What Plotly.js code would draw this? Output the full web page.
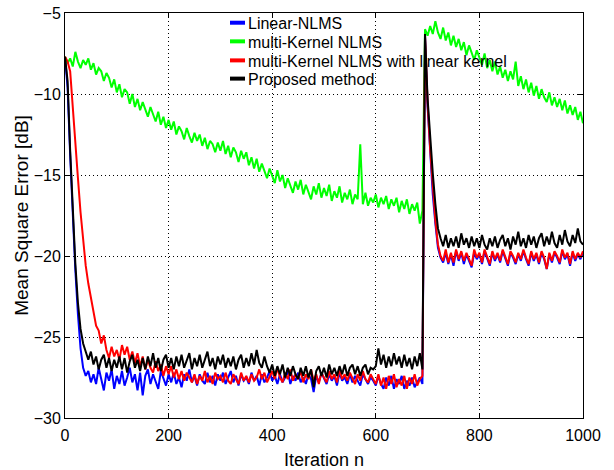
<!DOCTYPE html>
<html>
<head>
<meta charset="utf-8">
<script src="https://cdn.plot.ly/plotly-3.0.1.min.js"></script>
<style>html,body{margin:0;padding:0;background:#fff;}#chart{width:614px;height:470px;}</style>
</head>
<body>
<div id="chart"></div>
<script>
// Iteration index (every 5th sample)
const iterations = Array.from({length: 201}, (_, i) => i * 5);

const seriesNames = ["Linear-NLMS", "multi-Kernel NLMS", "multi-Kernel NLMS with linear kernel", "Proposed method"];

const linearNLMS = [
-7.7,-9.6,-13.8,-17.6,-20.9,-23.6,-25.7,-26.9,-27.4,-27.1,
-27.8,-27.3,-27.9,-26.9,-27.6,-28.3,-27.2,-27.7,-27.0,-28.2,
-27.4,-27.9,-27.1,-28.0,-27.5,-26.9,-27.8,-27.3,-28.3,-27.2,
-28.6,-27.4,-27.0,-27.9,-27.3,-27.8,-28.2,-27.1,-27.6,-28.0,
-27.3,-27.8,-27.2,-27.9,-27.5,-28.1,-27.3,-27.7,-27.0,-27.8,
-27.4,-28.0,-27.3,-27.7,-27.9,-27.2,-27.8,-27.4,-28.0,-27.3,
-27.7,-27.2,-27.9,-27.5,-27.1,-27.8,-27.4,-28.0,-27.3,-27.7,
-27.5,-27.9,-27.2,-27.7,-27.4,-28.0,-27.3,-27.8,-27.5,-27.1,
-27.7,-27.4,-27.9,-27.3,-27.8,-27.5,-27.1,-27.9,-27.4,-27.7,
-27.2,-27.8,-27.5,-27.9,-27.3,-27.6,-28.4,-27.4,-27.8,-27.2,
-27.6,-27.9,-27.3,-27.7,-27.4,-28.0,-27.2,-27.7,-27.5,-27.9,
-27.3,-27.8,-27.4,-27.7,-28.0,-27.3,-27.6,-27.9,-27.5,-27.7,
-28.0,-27.4,-27.9,-28.2,-27.5,-28.0,-27.4,-28.2,-27.6,-27.9,
-27.4,-28.2,-27.7,-28.0,-27.5,-28.1,-27.8,-27.5,-27.9,-6.4,
-10.8,-13.6,-16.2,-18.0,-19.5,-20.1,-20.4,-19.8,-20.5,-19.9,
-20.6,-19.7,-20.3,-19.8,-20.5,-19.9,-20.3,-20.7,-19.8,-20.2,
-19.9,-20.5,-19.7,-20.2,-20.6,-19.8,-20.3,-19.9,-20.4,-19.7,
-20.2,-20.6,-19.8,-20.1,-20.5,-19.9,-20.3,-19.7,-20.2,-20.6,
-19.8,-20.3,-19.9,-20.5,-19.8,-20.2,-20.8,-19.9,-20.4,-19.8,
-20.1,-20.5,-19.7,-20.2,-19.9,-20.6,-19.8,-20.3,-19.9,-20.2,
-19.8];

const multiKernelNLMS = [
-7.7,-8.1,-7.8,-8.3,-7.4,-8.0,-8.4,-7.9,-8.2,-7.8,
-8.5,-8.1,-8.8,-8.4,-8.6,-9.2,-8.7,-9.0,-9.6,-9.1,
-9.9,-9.4,-10.2,-9.7,-9.9,-10.6,-10.0,-10.8,-10.3,-11.0,
-10.5,-10.9,-11.4,-10.8,-11.3,-11.7,-11.1,-11.9,-11.4,-12.1,
-11.6,-12.2,-11.7,-12.5,-12.0,-12.3,-12.8,-12.1,-12.6,-13.0,
-12.4,-12.9,-12.5,-13.2,-12.7,-13.4,-12.9,-13.1,-13.6,-13.0,
-13.5,-12.9,-13.7,-13.2,-13.9,-13.3,-13.6,-14.2,-13.5,-14.0,
-13.6,-14.4,-13.9,-14.6,-14.0,-14.8,-14.3,-14.7,-15.2,-14.6,
-15.0,-15.5,-14.7,-15.4,-15.0,-15.8,-15.2,-15.6,-16.1,-15.4,
-15.9,-15.3,-16.2,-15.6,-16.0,-16.5,-15.7,-16.2,-15.5,-16.4,
-15.8,-16.3,-15.6,-16.6,-16.0,-16.4,-15.7,-16.7,-16.1,-16.5,
-15.9,-16.8,-16.2,-16.5,-13.1,-16.8,-16.1,-16.9,-16.4,-16.7,
-16.2,-17.0,-16.4,-16.8,-16.3,-17.1,-16.5,-16.9,-16.4,-17.3,
-16.6,-17.1,-16.5,-17.4,-16.8,-17.2,-16.7,-18.0,-17.2,-6.0,
-6.4,-5.8,-6.3,-5.5,-6.2,-6.6,-5.9,-6.7,-6.2,-7.0,
-6.4,-7.1,-6.6,-7.3,-6.8,-7.6,-7.0,-7.4,-7.9,-7.3,
-7.8,-8.2,-7.5,-8.4,-7.9,-8.6,-8.0,-8.8,-8.3,-9.0,
-8.5,-9.2,-8.6,-9.1,-8.0,-9.5,-8.9,-9.7,-9.1,-9.9,
-9.3,-10.1,-9.5,-10.3,-9.7,-10.2,-10.5,-9.9,-10.7,-10.2,
-10.8,-10.3,-11.0,-10.4,-11.2,-10.7,-11.3,-10.8,-11.6,-11.1,
-11.8];

const multiKernelLinear = [
-7.7,-8.0,-8.6,-11.0,-13.3,-15.2,-17.3,-19.2,-20.6,-21.7,
-22.6,-23.3,-24.3,-24.6,-25.4,-24.9,-25.8,-26.3,-25.6,-26.2,
-25.8,-26.4,-25.5,-26.1,-25.6,-26.4,-25.9,-26.6,-26.0,-26.8,
-26.2,-27.0,-26.4,-26.9,-27.2,-26.5,-27.1,-26.7,-27.4,-26.8,
-27.3,-26.8,-27.5,-27.0,-27.6,-27.1,-27.7,-27.2,-27.5,-27.8,
-27.3,-27.9,-27.4,-27.7,-27.1,-27.8,-27.4,-27.9,-27.2,-27.6,
-27.4,-27.8,-27.2,-27.7,-27.9,-27.3,-27.6,-27.9,-27.2,-27.7,
-27.4,-27.8,-27.3,-27.7,-27.5,-27.0,-27.6,-27.2,-27.8,-27.4,
-27.1,-27.6,-26.9,-27.5,-27.8,-27.2,-27.6,-27.0,-27.7,-27.3,
-27.6,-27.1,-27.8,-27.3,-27.6,-27.0,-27.7,-27.3,-27.9,-27.2,
-27.5,-27.8,-27.1,-27.6,-27.3,-27.8,-27.0,-27.6,-27.3,-27.7,
-27.2,-27.6,-27.9,-27.3,-27.7,-27.1,-27.6,-27.8,-27.3,-27.6,
-27.9,-27.3,-28.0,-27.5,-28.2,-27.4,-27.9,-27.3,-28.1,-27.6,
-28.0,-27.4,-28.2,-27.5,-27.9,-27.3,-28.0,-27.6,-27.4,-6.4,
-10.6,-13.4,-15.9,-17.8,-19.3,-20.0,-20.3,-19.6,-20.4,-19.8,
-20.4,-19.6,-20.2,-19.7,-20.3,-19.8,-20.2,-20.6,-19.6,-20.1,
-19.8,-20.4,-19.6,-20.0,-20.5,-19.7,-20.2,-19.8,-20.3,-19.6,
-20.1,-20.5,-19.7,-20.0,-20.4,-19.8,-20.2,-19.6,-20.1,-20.5,
-19.7,-20.2,-19.8,-20.4,-19.7,-20.1,-20.8,-19.8,-20.3,-19.7,
-20.0,-20.4,-19.6,-20.1,-19.8,-20.5,-19.7,-20.2,-19.8,-20.1,
-19.7];

const proposedMethod = [
-7.7,-9.2,-13.5,-17.3,-20.5,-22.9,-24.5,-25.4,-25.9,-26.4,
-25.9,-26.7,-26.2,-27.0,-26.4,-26.1,-26.9,-26.3,-27.1,-26.4,
-26.9,-26.2,-27.0,-26.3,-27.2,-26.5,-26.1,-26.9,-26.4,-27.1,
-26.3,-27.0,-26.2,-26.8,-26.0,-26.9,-26.3,-27.1,-26.4,-26.1,
-26.9,-26.3,-27.0,-26.2,-26.8,-26.1,-26.9,-26.4,-26.0,-27.0,
-26.3,-26.8,-26.1,-26.9,-26.4,-25.9,-26.8,-26.3,-27.0,-26.2,
-26.7,-26.1,-26.9,-26.3,-26.8,-26.2,-27.0,-26.4,-26.1,-26.9,
-26.3,-26.8,-26.0,-26.7,-25.8,-26.6,-26.9,-26.2,-26.8,-27.2,
-26.7,-27.4,-26.8,-27.3,-26.7,-27.5,-26.9,-27.4,-26.8,-27.3,
-27.6,-26.9,-27.4,-26.8,-27.5,-27.0,-28.1,-27.1,-26.8,-27.4,
-26.9,-27.5,-26.7,-27.3,-26.9,-27.4,-26.8,-27.3,-26.7,-27.4,
-26.9,-26.7,-27.3,-26.8,-27.4,-26.9,-26.7,-27.3,-26.9,-27.0,
-26.8,-25.7,-26.7,-26.1,-26.9,-26.2,-26.8,-26.0,-26.7,-26.2,
-26.9,-26.1,-26.8,-26.3,-27.0,-26.2,-26.8,-26.0,-27.0,-6.3,
-10.3,-12.7,-14.9,-16.8,-18.3,-18.9,-19.4,-18.7,-19.5,-18.9,
-19.4,-18.8,-19.5,-18.6,-19.3,-18.9,-19.5,-18.8,-19.4,-18.9,
-19.5,-18.7,-19.3,-19.6,-18.9,-19.4,-18.8,-19.5,-19.0,-18.7,
-19.4,-18.9,-19.6,-18.8,-19.3,-18.5,-19.4,-18.9,-19.5,-18.7,
-19.3,-18.8,-19.5,-18.9,-18.6,-19.4,-18.8,-19.3,-18.5,-19.2,
-19.5,-18.7,-19.3,-18.4,-19.1,-19.4,-18.7,-19.2,-18.3,-19.1,
-19.3];

const seriesValues = [linearNLMS, multiKernelNLMS, multiKernelLinear, proposedMethod];
const seriesColors = ["#0000FF", "#00FF00", "#FF0000", "#000000"];

const FONT = "Liberation Sans, Arial, Helvetica, sans-serif";

const traces = seriesValues.map((vals, k) => ({
  type: "scatter", mode: "lines",
  x: iterations, y: vals,
  name: seriesNames[k],
  line: {color: seriesColors[k], width: 2},
  showlegend: false, hoverinfo: "skip"
}));

// Legend drawn in the MATLAB style: short thick sample line + label, no box
const legendRowsY = [0.976, 0.930, 0.883, 0.838];
const shapes = [];
const annotations = [];
seriesNames.forEach((nm, k) => {
  shapes.push({
    type: "line", xref: "paper", yref: "paper",
    x0: 0.3185, x1: 0.3475, y0: legendRowsY[k], y1: legendRowsY[k],
    line: {color: seriesColors[k], width: 4}
  });
  annotations.push({
    xref: "paper", yref: "paper", x: 0.350, y: legendRowsY[k] - 0.003,
    xanchor: "left", yanchor: "middle", showarrow: false,
    text: nm, font: {family: FONT, size: 16, color: "#000"}
  });
});

const axisCommon = {
  showline: true, linecolor: "#000", linewidth: 1, mirror: "ticks",
  ticks: "inside", ticklen: 5, tickcolor: "#000", tickwidth: 1,
  showgrid: true, gridcolor: "#000", gridwidth: 1, griddash: "1px,3px",
  zeroline: false,
  tickfont: {family: FONT, size: 16, color: "#000"}
};

const layout = {
  width: 614, height: 470,
  margin: {l: 65, r: 31, t: 13, b: 52},
  paper_bgcolor: "#fff", plot_bgcolor: "#fff",
  font: {family: FONT, color: "#000"},
  xaxis: Object.assign({}, axisCommon, {
    range: [0, 1000], dtick: 200, tick0: 0, ticklabelstandoff: 3,
    title: {text: "Iteration n", font: {family: FONT, size: 18, color: "#000"}, standoff: 10}
  }),
  yaxis: Object.assign({}, axisCommon, {
    range: [-30, -5], dtick: 5, tick0: -30,
    title: {text: "Mean Square Error [dB]", font: {family: FONT, size: 19, color: "#000"}, standoff: 0}
  }),
  shapes: shapes,
  annotations: annotations,
  showlegend: false
};

Plotly.newPlot("chart", traces, layout, {staticPlot: true, displayModeBar: false});
</script>
</body>
</html>
